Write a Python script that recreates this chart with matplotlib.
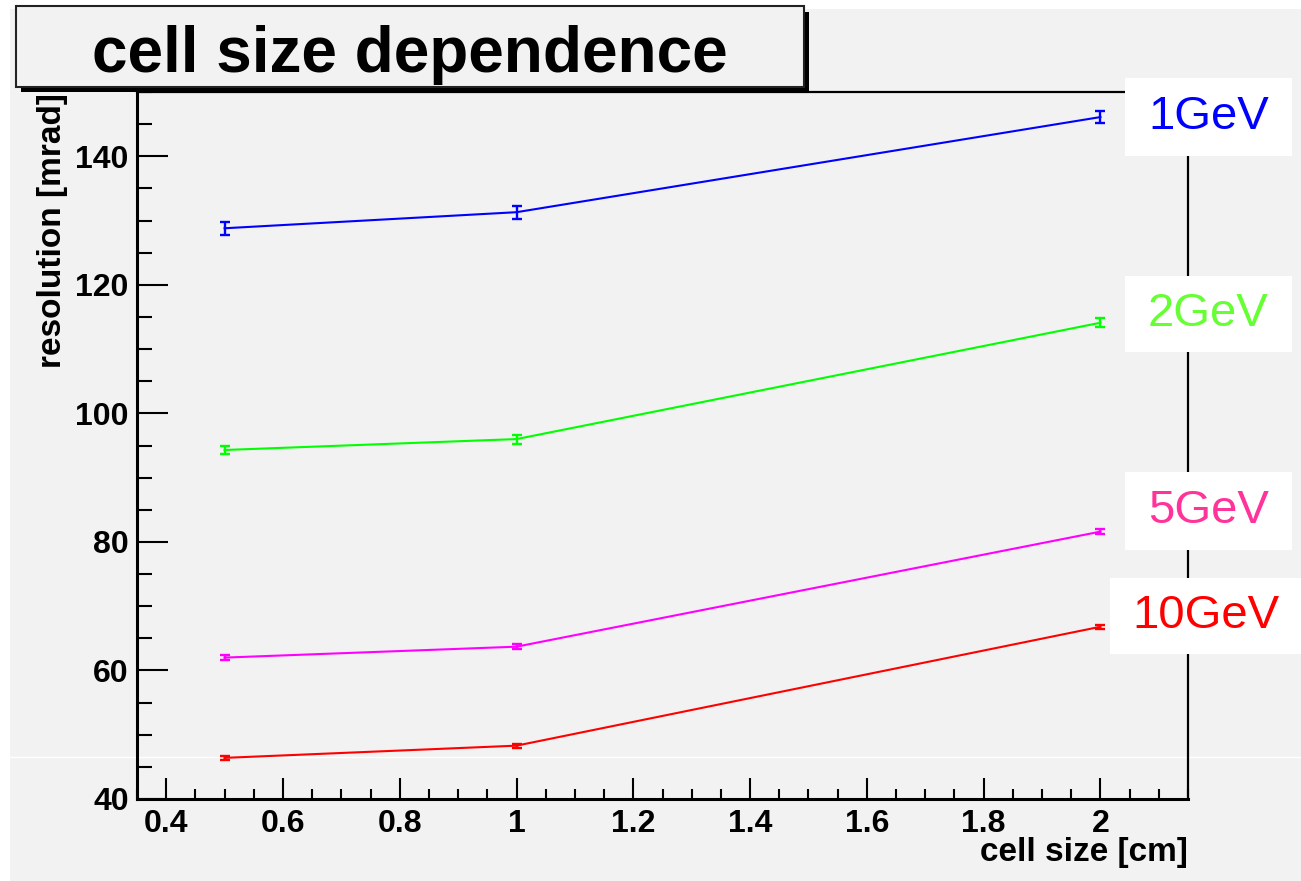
import matplotlib
matplotlib.use("Agg")
import matplotlib.pyplot as plt
from matplotlib.patches import Rectangle
from matplotlib.lines import Line2D
from matplotlib.ticker import MultipleLocator, FuncFormatter

# ---- data ----
cell_size = [0.5, 1.0, 2.0]
res_1gev = [128.8, 131.3, 146.1]
err_1gev = [1.0, 1.0, 1.0]
res_2gev = [94.3, 96.0, 114.1]
err_2gev = [0.7, 0.7, 0.7]
res_5gev = [62.0, 63.7, 81.6]
err_5gev = [0.4, 0.4, 0.4]
res_10gev = [46.4, 48.3, 66.8]
err_10gev = [0.3, 0.3, 0.3]
series_labels = ["1GeV", "2GeV", "5GeV", "10GeV"]
line_colors = ["#0000ff", "#00ff00", "#ff00ff", "#ff0000"]
text_colors = ["#0000ff", "#66ff33", "#ff3399", "#ff0000"]
title = "cell size dependence"
xlabel = "cell size [cm]"
ylabel = "resolution [mrad]"

W, H = 1301, 881
fig = plt.figure(figsize=(W / 100, H / 100), dpi=100)
fig.patch.set_facecolor("white")
plt.rcParams["font.family"] = ["Liberation Sans", "DejaVu Sans"]

def fx(px):
    return px / W

def fy(py):
    return 1 - py / H

# grey pad background
fig.add_artist(Rectangle((fx(10), 0), 1 - fx(10), fy(9), transform=fig.transFigure,
                         facecolor="#f2f2f2", edgecolor="none", zorder=-3))
# thin white artifact line
fig.add_artist(Line2D([fx(10), 1], [fy(757), fy(757)], transform=fig.transFigure,
                      color="white", lw=1.0, zorder=-2))

ax = fig.add_axes([fx(137), fy(799), fx(1188) - fx(137), fy(92) - fy(799)])
ax.set_facecolor("none")

series = [(res_1gev, err_1gev), (res_2gev, err_2gev), (res_5gev, err_5gev), (res_10gev, err_10gev)]
for (vals, errs), c in zip(series, line_colors):
    ax.errorbar(cell_size, vals, yerr=errs, color=c, lw=1.5, elinewidth=1.7,
                capsize=3.3, capthick=1.7, zorder=3)

ax.set_xlim(0.35, 2.15)
ax.set_ylim(40, 150)
ax.xaxis.set_major_locator(MultipleLocator(0.2))
ax.xaxis.set_minor_locator(MultipleLocator(0.05))
ax.yaxis.set_major_locator(MultipleLocator(20))
ax.yaxis.set_minor_locator(MultipleLocator(5))

def xfmt(v, pos):
    s = "%.1f" % v
    if s.endswith(".0"):
        s = s[:-2]
    return s

ax.xaxis.set_major_formatter(FuncFormatter(xfmt))
ax.yaxis.set_major_formatter(FuncFormatter(lambda v, p: "%d" % round(v)))
ax.set_xticks([t for t in ax.get_xticks() if 0.39 < t < 2.01])

ax.tick_params(axis="both", which="both", direction="in", top=False, right=False,
               colors="black", width=1.5)
ax.tick_params(axis="x", which="major", length=15, pad=7)
ax.tick_params(axis="x", which="minor", length=7.5)
ax.tick_params(axis="y", which="major", length=22, pad=6)
ax.tick_params(axis="y", which="minor", length=11)
for lab in ax.get_xticklabels() + ax.get_yticklabels():
    lab.set_fontsize(23)
    lab.set_fontweight("bold")
for s in ["left", "bottom"]:
    ax.spines[s].set_linewidth(2.2)
for s in ["right", "top"]:
    ax.spines[s].set_linewidth(1.6)

fig.text(fx(1188), fy(853), xlabel, ha="right", va="center", fontsize=24, fontweight="bold")
fig.text(fx(52), fy(93), ylabel, ha="center", va="top", rotation=90, fontsize=24,
         fontweight="bold")

# title box with shadow
fig.add_artist(Rectangle((fx(21), fy(92)), fx(809) - fx(21), fy(12) - fy(92),
                         transform=fig.transFigure, facecolor="black", edgecolor="none", zorder=5))
fig.add_artist(Rectangle((fx(16), fy(87)), fx(804) - fx(16), fy(6) - fy(87),
                         transform=fig.transFigure, facecolor="#f2f2f2", edgecolor="#222222",
                         lw=1.5, zorder=6))
fig.text(fx(410), fy(72), title, ha="center", va="baseline", fontsize=46,
         fontweight="bold", zorder=7)

# label boxes
boxes = [(1125, 78, 1292, 156), (1125, 276, 1292, 352), (1125, 472, 1292, 550), (1110, 578, 1305, 654)]
for (x0, y0, x1, y1), lab, c in zip(boxes, series_labels, text_colors):
    fig.add_artist(Rectangle((fx(x0), fy(y1)), fx(x1) - fx(x0), fy(y0) - fy(y1),
                             transform=fig.transFigure, facecolor="white", edgecolor="none",
                             zorder=5))
    fig.text(fx((x0 + min(x1, 1301)) / 2), fy((y0 + y1) / 2), lab, ha="center", va="center",
             fontsize=34, color=c, zorder=6)

fig.savefig("out.png", dpi=100)
